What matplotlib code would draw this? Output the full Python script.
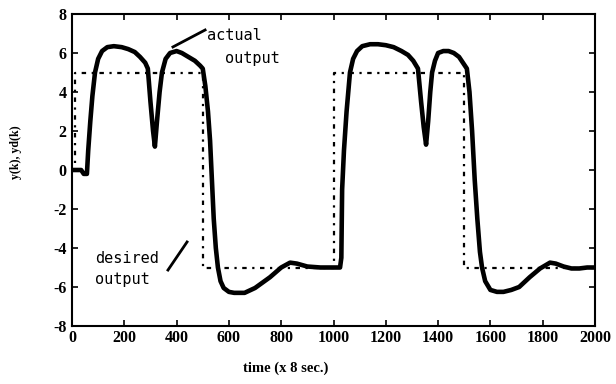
import matplotlib
matplotlib.use("Agg")
import matplotlib.pyplot as plt

# actual output y(k)
k_actual = [0, 35, 45, 57, 62, 70, 78, 88, 100, 115, 135, 160, 190, 215, 240, 260, 280, 290,
            300, 310, 317, 325, 335, 344, 358, 375, 400, 420, 445, 470, 490, 500,
            510, 520, 528, 535, 542, 550, 558, 568, 580, 600, 620, 660, 700, 757, 800, 834,
            860, 900, 950, 1000, 1025, 1030, 1033, 1040, 1050, 1063, 1075, 1090, 1110, 1140,
            1170, 1200, 1230, 1260, 1285, 1305, 1323, 1335, 1345, 1354, 1362, 1370, 1377,
            1388, 1400, 1420, 1440, 1460, 1480, 1495, 1510, 1520, 1530, 1540, 1550, 1560,
            1568, 1580, 1600, 1625, 1650, 1680, 1710, 1750, 1790, 1828, 1850, 1880, 1910,
            1940, 1970, 2000]
y_actual = [0, 0, -0.2, -0.2, 1.0, 2.5, 3.8, 5.0, 5.7, 6.1, 6.3, 6.35, 6.3, 6.2, 6.05, 5.8, 5.5, 5.2,
            3.5, 2.0, 1.2, 2.5, 4.0, 5.0, 5.7, 6.0, 6.1, 6.0, 5.8, 5.6, 5.35, 5.2,
            4.3, 3.0, 1.5, -0.5, -2.5, -4.0, -5.0, -5.7, -6.05, -6.25, -6.3, -6.3, -6.05, -5.5, -5.0, -4.75,
            -4.8, -4.95, -5.0, -5.0, -5.0, -4.5, -1.0, 1.0, 3.0, 5.0, 5.7, 6.1, 6.35, 6.45,
            6.45, 6.4, 6.3, 6.1, 5.9, 5.6, 5.2, 3.5, 2.2, 1.3, 2.5, 4.0, 5.0,
            5.6, 6.0, 6.1, 6.1, 6.0, 5.8, 5.5, 5.2, 4.0, 2.0, -0.5, -2.5, -4.2,
            -5.0, -5.7, -6.15, -6.25, -6.25, -6.15, -6.0, -5.5, -5.05, -4.75, -4.8, -4.95, -5.05,
            -5.05, -5.0, -5.0]

# desired output yd(k)
k_desired = [0, 10, 10, 500, 500, 1000, 1000, 1500, 1500, 2000]
y_desired = [0, 0, 5, 5, -5, -5, 5, 5, -5, -5]

x_ticks = [0, 200, 400, 600, 800, 1000, 1200, 1400, 1600, 1800, 2000]
y_ticks = [-8, -6, -4, -2, 0, 2, 4, 6, 8]

fig = plt.figure(figsize=(6.16, 3.84), dpi=100)
ax = fig.add_axes([72/616, 1-326/384, 523/616, 312/384])

ax.plot(k_desired, y_desired, color='black', lw=1.6, linestyle=(0, (2, 2.5, 1, 2.5)))
ax.plot(k_actual, y_actual, color='black', lw=3.3, solid_joinstyle='round', solid_capstyle='round')

ax.set_xlim(0, 2000)
ax.set_ylim(-8, 8)
ax.set_xticks(x_ticks)
ax.set_yticks(y_ticks)
tick_font = dict(family='Liberation Serif', weight='bold', size=11.5)
ax.set_xticklabels([str(v) for v in x_ticks], **tick_font)
ax.set_yticklabels([str(v) for v in y_ticks], **tick_font)
ax.tick_params(direction='in', length=4, width=1.2, top=True, right=True)
ax.tick_params(axis='x', pad=3)
ax.tick_params(axis='y', pad=4)
for s in ax.spines.values():
    s.set_linewidth(1.5)

mono = dict(family='DejaVu Sans Mono', size=11, va='center', ha='left')
ax.text(516, 6.92, 'actual', **mono)
ax.text(585, 5.74, 'output', **mono)
ax.plot([386, 509], [6.31, 7.18], color='black', lw=2)
ax.text(88, -4.56, 'desired', **mono)
ax.text(88, -5.64, 'output', **mono)
ax.plot([367, 440], [-5.13, -3.69], color='black', lw=2)

fig.text(286/616, 1-368/384, 'time (x 8 sec.)', family='Liberation Serif', weight='bold',
         size=10.5, ha='center', va='center')
fig.text(16/616, 1-152/384, 'y(k), yd(k)', family='Liberation Serif', weight='bold',
         size=8.5, ha='center', va='center', rotation=90)

fig.savefig('out.png', dpi=100)
